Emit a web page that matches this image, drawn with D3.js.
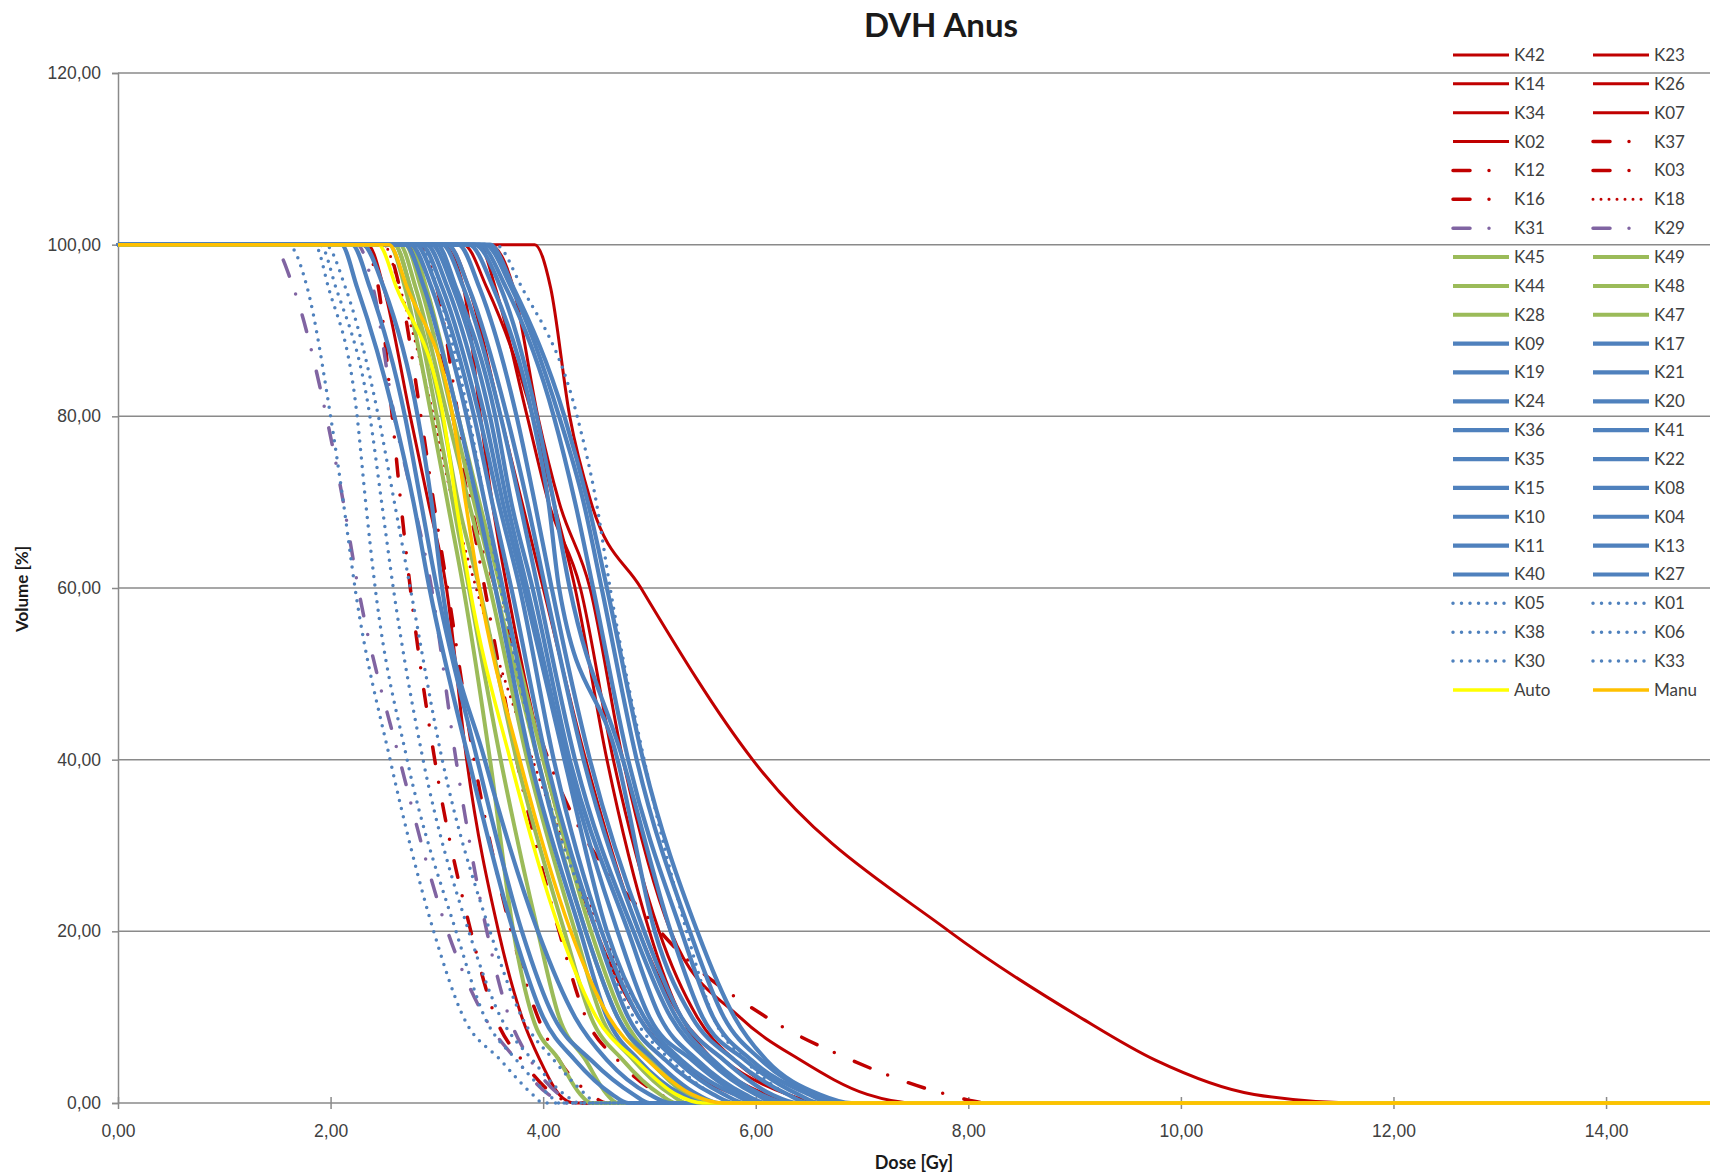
<!DOCTYPE html>
<html>
<head>
<meta charset="utf-8">
<script src="https://cdn.jsdelivr.net/npm/d3@7"></script>
<style>
  html, body { margin: 0; padding: 0; background: #fff; }
  svg { display: block; font-family: Lato, "Liberation Sans", sans-serif; }
</style>
</head>
<body>
<div id="chart"></div>
<script>
// Volume levels (%) at which the dose of every curve was read
const volumeLevels = [100, 95, 80, 70, 60, 40, 20, 10, 5, 1, 0];

// Series in legend order (two columns, row by row)
const seriesNames = [
  "K42", "K23", "K14", "K26", "K34", "K07", "K02", "K37", "K12", "K03",
  "K16", "K18", "K31", "K29", "K45", "K49", "K44", "K48", "K28", "K47",
  "K09", "K17", "K19", "K21", "K24", "K20", "K36", "K41", "K35", "K22",
  "K15", "K08", "K10", "K04", "K11", "K13", "K40", "K27", "K05", "K01",
  "K38", "K06", "K30", "K33", "Auto", "Manu"
];

// Dose [Gy] reached at each volume level, one row per series
const doseValues = [
  [3.92, 4.07, 4.25, 4.45, 4.92, 5.97, 7.82, 9.05, 9.76, 10.69, 11.7], // K42
  [3.50, 3.72, 3.95, 4.15, 4.44, 4.75, 5.20, 5.85, 6.42, 7.05, 7.50],  // K23
  [3.40, 3.55, 3.85, 4.05, 4.35, 4.66, 5.09, 5.45, 5.80, 6.30, 6.60],  // K14
  [3.05, 3.25, 3.41, 3.52, 3.66, 4.00, 4.50, 4.90, 5.25, 5.80, 6.10],  // K26
  [3.25, 3.47, 3.90, 4.10, 4.30, 4.60, 5.00, 5.30, 5.60, 6.10, 6.40],  // K34
  [3.10, 3.30, 3.60, 3.80, 4.00, 4.40, 4.90, 5.30, 5.70, 6.30, 6.60],  // K07
  [2.35, 2.50, 2.75, 2.92, 3.09, 3.28, 3.58, 3.80, 3.97, 4.15, 4.30],  // K02
  [2.80, 3.00, 3.20, 3.32, 3.55, 4.05, 5.10, 6.10, 6.90, 7.80, 8.20],  // K37
  [2.30, 2.45, 2.58, 2.66, 2.75, 2.98, 3.32, 3.55, 3.80, 4.10, 4.30],  // K12
  [2.50, 2.65, 2.85, 2.97, 3.10, 3.35, 3.70, 3.95, 4.15, 4.45, 4.60],  // K03
  [2.70, 2.90, 3.15, 3.30, 3.45, 3.75, 4.15, 4.40, 4.70, 5.10, 5.30],  // K16
  [2.50, 2.65, 2.97, 3.15, 3.37, 3.90, 4.55, 4.95, 5.30, 5.70, 5.90],  // K18
  [1.45, 1.65, 1.96, 2.12, 2.26, 2.65, 3.10, 3.45, 3.75, 4.05, 4.20],  // K31
  [2.25, 2.40, 2.60, 2.78, 2.95, 3.18, 3.47, 3.68, 3.88, 4.15, 4.30],  // K29
  [2.55, 2.70, 2.95, 3.10, 3.25, 3.50, 3.72, 3.90, 4.15, 4.35, 4.45],  // K45
  [2.65, 2.80, 3.10, 3.30, 3.50, 3.85, 4.30, 4.55, 4.85, 5.20, 5.35],  // K49
  [2.70, 2.85, 3.15, 3.35, 3.55, 3.95, 4.40, 4.70, 5.00, 5.35, 5.50],  // K44
  [2.60, 2.75, 3.05, 3.20, 3.40, 3.75, 4.20, 4.45, 4.75, 5.10, 5.25],  // K48
  [2.75, 2.90, 3.20, 3.40, 3.60, 4.00, 4.45, 4.75, 5.05, 5.40, 5.55],  // K28
  [2.60, 2.75, 3.00, 3.15, 3.30, 3.60, 3.95, 4.15, 4.40, 4.60, 4.70],  // K47
  [2.10, 2.25, 2.60, 2.78, 2.93, 3.30, 3.72, 4.00, 4.30, 4.65, 4.80],  // K09
  [2.20, 2.37, 2.70, 2.85, 3.00, 3.38, 3.80, 4.10, 4.45, 4.85, 5.00],  // K17
  [2.30, 2.50, 2.82, 2.95, 3.05, 3.45, 3.95, 4.30, 4.60, 5.00, 5.20],  // K19
  [2.70, 2.88, 3.20, 3.38, 3.55, 3.88, 4.35, 4.60, 4.90, 5.30, 5.50],  // K21
  [2.75, 2.95, 3.28, 3.45, 3.62, 3.95, 4.40, 4.70, 5.05, 5.45, 5.65],  // K24
  [2.80, 3.00, 3.35, 3.52, 3.70, 4.03, 4.50, 4.80, 5.15, 5.60, 5.80],  // K20
  [2.85, 3.05, 3.40, 3.58, 3.78, 4.10, 4.55, 4.90, 5.25, 5.70, 5.90],  // K36
  [2.90, 3.10, 3.45, 3.62, 3.82, 4.20, 4.60, 4.95, 5.30, 5.80, 6.00],  // K41
  [3.00, 3.18, 3.55, 3.70, 3.90, 4.25, 4.80, 5.10, 5.45, 5.90, 6.10],  // K35
  [3.05, 3.25, 3.60, 3.78, 3.95, 4.30, 4.85, 5.20, 5.55, 6.00, 6.20],  // K22
  [3.10, 3.30, 3.66, 3.85, 4.02, 4.38, 4.90, 5.25, 5.60, 6.05, 6.30],  // K15
  [3.20, 3.40, 3.75, 3.92, 4.08, 4.44, 4.95, 5.30, 5.70, 6.15, 6.40],  // K08
  [3.30, 3.53, 3.90, 4.05, 4.15, 4.70, 5.05, 5.40, 5.80, 6.30, 6.50],  // K10
  [3.35, 3.60, 3.94, 4.10, 4.25, 4.75, 5.20, 5.50, 5.90, 6.40, 6.60],  // K04
  [3.40, 3.65, 4.10, 4.30, 4.47, 4.80, 5.30, 5.60, 5.96, 6.50, 6.70],  // K11
  [3.45, 3.70, 4.15, 4.38, 4.55, 4.88, 5.38, 5.70, 6.05, 6.55, 6.80],  // K13
  [3.50, 3.72, 4.20, 4.42, 4.60, 4.94, 5.45, 5.80, 6.10, 6.60, 6.90],  // K40
  [2.95, 3.15, 3.50, 3.66, 3.85, 4.22, 4.70, 5.00, 5.40, 5.85, 6.05],  // K27
  [1.60, 1.78, 2.00, 2.12, 2.23, 2.56, 2.97, 3.25, 3.60, 3.90, 4.00],  // K05
  [1.85, 1.98, 2.25, 2.33, 2.42, 2.72, 3.18, 3.45, 3.75, 4.05, 4.15],  // K01
  [1.90, 2.05, 2.37, 2.48, 2.59, 2.87, 3.30, 3.60, 3.90, 4.20, 4.35],  // K38
  [1.95, 2.14, 2.45, 2.60, 2.75, 3.05, 3.50, 3.80, 4.10, 4.40, 4.50],  // K06
  [2.85, 3.00, 3.30, 3.45, 3.60, 3.95, 4.50, 4.85, 5.20, 5.60, 5.80],  // K30
  [3.55, 3.80, 4.32, 4.50, 4.63, 4.95, 5.35, 5.60, 5.90, 6.30, 6.50],  // K33
  [2.45, 2.62, 3.06, 3.18, 3.31, 3.69, 4.16, 4.50, 4.87, 5.25, 5.50],  // Auto
  [2.55, 2.72, 3.15, 3.27, 3.40, 3.78, 4.26, 4.62, 4.98, 5.40, 5.70]   // Manu
];

const yTicks = [0, 20, 40, 60, 80, 100, 120];
const xTicks = [0, 2, 4, 6, 8, 10, 12, 14];
const doseEnd = 16;

// ---- styles ----
const redSolid = ["K42", "K23", "K14", "K26", "K34", "K07", "K02"];
const redDashDot = ["K37", "K12", "K03", "K16"];
const purpleDashDot = ["K31", "K29"];
const greenSolid = ["K45", "K49", "K44", "K48", "K28", "K47"];
const blueDotted = ["K05", "K01", "K38", "K06", "K30", "K33"];

function styleFor(name) {
  if (name === "Auto") return { color: "#FFFF00", width: 3.5, dash: null };
  if (name === "Manu") return { color: "#FFC000", width: 3.5, dash: null };
  if (name === "K18") return { color: "#C00000", width: 3, dash: "0 8" };
  if (redSolid.includes(name)) return { color: "#C00000", width: 3, dash: null };
  if (redDashDot.includes(name)) return { color: "#C00000", width: 3.5, dash: "17 19 0 22" };
  if (purpleDashDot.includes(name)) return { color: "#8064A2", width: 3.5, dash: "17 19 0 22" };
  if (greenSolid.includes(name)) return { color: "#9BBB59", width: 4, dash: null };
  if (blueDotted.includes(name)) return { color: "#4F81BD", width: 3.5, dash: "0 8.5" };
  return { color: "#4F81BD", width: 4.2, dash: null };
}

const W = 1710, H = 1174;
const plotLeft = 118, plotTop = 73, plotBottom = 1103;
const unitX = 106.29;

const svg = d3.select("#chart").append("svg")
  .attr("width", W)
  .attr("height", H);

const x = d3.scaleLinear().domain([0, doseEnd]).range([plotLeft, plotLeft + doseEnd * unitX]);
const y = d3.scaleLinear().domain([0, 120]).range([plotBottom, plotTop]);
const fmt = d => d3.format(".2f")(d).replace(".", ",");

// gridlines
svg.append("g")
  .selectAll("line")
  .data(yTicks.filter(d => d > 0))
  .join("line")
  .attr("x1", plotLeft).attr("x2", W)
  .attr("y1", d => y(d)).attr("y2", d => y(d))
  .attr("stroke", "#8a8a8a")
  .attr("stroke-width", 1.5);

// y axis
const yAxis = svg.append("g")
  .attr("transform", `translate(${plotLeft},0)`)
  .call(d3.axisLeft(y).tickValues(yTicks).tickFormat(fmt).tickSize(6).tickPadding(11));
yAxis.select(".domain").attr("stroke", "#8a8a8a").attr("stroke-width", 1.5);
yAxis.selectAll(".tick line").attr("stroke", "#8a8a8a").attr("stroke-width", 1.5);
yAxis.selectAll(".tick text")
  .attr("fill", "#404040")
  .style("font-size", "17.5px");

// x axis
const xAxis = svg.append("g")
  .attr("transform", `translate(0,${plotBottom})`)
  .call(d3.axisBottom(x).tickValues(xTicks).tickFormat(fmt).tickSize(6).tickPadding(16));
xAxis.select(".domain").attr("d", `M${plotLeft},0H${W}`).attr("stroke", "#8a8a8a").attr("stroke-width", 1.5);
xAxis.selectAll(".tick line").attr("y1", -6).attr("y2", 6).attr("stroke", "#8a8a8a").attr("stroke-width", 1.5);
xAxis.selectAll(".tick text")
  .attr("fill", "#404040")
  .style("font-size", "17.5px");

// curves
const line = d3.line()
  .x(d => x(d[0]))
  .y(d => y(d[1]))
  .curve(d3.curveMonotoneX);

const series = seriesNames.map((name, i) => ({
  name,
  style: styleFor(name),
  points: [[0, 100]]
    .concat(doseValues[i].map((d, j) => [d, volumeLevels[j]]))
    .concat([[doseEnd, 0]])
}));

svg.append("g")
  .attr("fill", "none")
  .selectAll("path")
  .data(series)
  .join("path")
  .attr("d", d => line(d.points))
  .attr("stroke", d => d.style.color)
  .attr("stroke-width", d => d.style.width)
  .attr("stroke-dasharray", d => d.style.dash)
  .attr("stroke-linecap", d => d.style.dash ? "round" : "butt")
  .attr("stroke-linejoin", "round");

// legend
const legendX = [1453, 1593];
const legendY0 = 55, legendStep = 28.86, sampleLen = 56;

const legend = svg.append("g")
  .selectAll("g")
  .data(series)
  .join("g")
  .attr("transform", (d, i) => `translate(${legendX[i % 2]},${legendY0 + Math.floor(i / 2) * legendStep})`);

legend.append("line")
  .attr("x1", 0).attr("x2", sampleLen)
  .attr("stroke", d => d.style.color)
  .attr("stroke-width", d => d.style.width)
  .attr("stroke-dasharray", d => d.style.dash)
  .attr("stroke-linecap", d => d.style.dash ? "round" : "butt");

legend.append("text")
  .attr("x", sampleLen + 5)
  .attr("dy", "0.35em")
  .attr("fill", "#404040")
  .style("font-size", "17px")
  .text(d => d.name);

// titles
svg.append("text")
  .attr("x", 941).attr("y", 25)
  .attr("text-anchor", "middle")
  .attr("dy", "0.35em")
  .attr("fill", "#1a1a1a")
  .style("font-size", "33px")
  .style("font-weight", "bold")
  .text("DVH Anus");

svg.append("text")
  .attr("x", 914).attr("y", 1163)
  .attr("text-anchor", "middle")
  .attr("dy", "0.35em")
  .attr("fill", "#1a1a1a")
  .style("font-size", "18px")
  .style("font-weight", "bold")
  .text("Dose [Gy]");

svg.append("text")
  .attr("transform", "translate(22,589) rotate(-90)")
  .attr("text-anchor", "middle")
  .attr("dy", "0.35em")
  .attr("fill", "#1a1a1a")
  .style("font-size", "17px")
  .style("font-weight", "bold")
  .text("Volume [%]");
</script>
</body>
</html>
